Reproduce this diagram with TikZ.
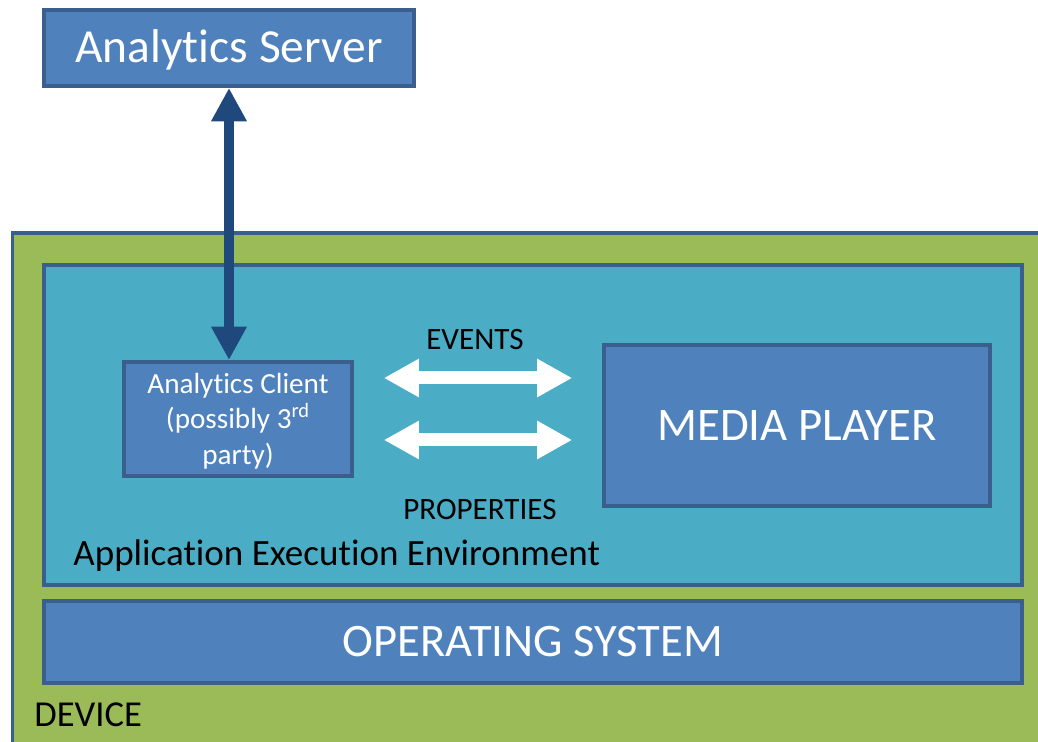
\documentclass[tikz,border=0pt]{standalone}
\usepackage{fontspec}
\setmainfont{Carlito}[Ligatures=NoCommon]
\usetikzlibrary{arrows.meta,positioning}
\definecolor{boxBlue}{HTML}{4F81BD}
\definecolor{edgeBlue}{HTML}{3B5F8C}
\definecolor{devGreen}{HTML}{9BBB59}
\definecolor{envCyan}{HTML}{4BACC6}
\definecolor{linkBlue}{HTML}{1F497D}
\tikzstyle{recNode} = [rectangle, draw=edgeBlue, line width=2.2pt, inner sep=0pt, text centered]
\tikzstyle{recNodeB} = [recNode, fill=boxBlue, text=white]
\tikzstyle{recNodeG} = [recNode, fill=devGreen]
\tikzstyle{recNodeC} = [recNode, fill=envCyan]
\tikzstyle{eNode} = [inner sep=0pt, text=black]
\tikzstyle{arrowW} = [draw=white, line width=7.4pt, {Triangle[width=20.5pt,length=20pt]}-{Triangle[width=20.5pt,length=20pt]}, shorten <=17pt, shorten >=17pt]
\tikzstyle{arrowD} = [draw=linkBlue, line width=5.6pt, {Triangle[width=19pt,length=19pt]}-{Triangle[width=19pt,length=19pt]}]

\begin{document}
\begin{tikzpicture}[x=0.02cm, y=-0.02cm]
    \useasboundingbox (0,0) rectangle (1038,742);
    \clip (0,0) rectangle (1038,742);
    % boxes
    \node (server) [recNodeB, minimum width=7.4cm, minimum height=1.52cm, font=\fontsize{27}{32}\selectfont, text depth=0.28em] at (229,48) {Analytics Server};
    \node (device) [recNodeG, line width=1.8pt, minimum width=20.96cm, minimum height=10.54cm] at (536,496.5) {};
    \node (appenv) [recNodeC, minimum width=19.56cm, minimum height=6.4cm] at (533,425) {};
    \node (client) [recNodeB, minimum width=4.56cm, minimum height=2.28cm] at (238,419) {};
    \node (clientTxt) [eNode, text=white, align=center, font=\fontsize{16.6}{20.1}\selectfont] at (238,421) {Analytics Client\\(possibly 3\textsuperscript{rd}\\party)};
    \node (player) [recNodeB, minimum width=7.72cm, minimum height=3.22cm, font=\fontsize{26.6}{32}\selectfont] at (797,425.5) {MEDIA PLAYER};
    \node (os) [recNodeB, minimum width=19.56cm, minimum height=1.64cm, font=\fontsize{26.5}{32}\selectfont] at (533,642) {OPERATING SYSTEM};
    % labels
    \node (events) [eNode, font=\fontsize{17.7}{21}\selectfont] at (475,340) {EVENTS};
    \node (props) [eNode, font=\fontsize{17.7}{21}\selectfont] at (480,510) {PROPERTIES};
    \node (envlbl) [eNode, anchor=west, font=\fontsize{21.1}{25}\selectfont] at (73,556) {Application Execution Environment};
    \node (devlbl) [eNode, anchor=west, font=\fontsize{20.8}{25}\selectfont] at (34,715) {DEVICE};
    % links
    \coordinate (evY) at (0,378);
    \coordinate (prY) at (0,440);
    \draw [arrowW] (client.east |- evY) -- (player.west |- evY);
    \draw [arrowW] (client.east |- prY) -- (player.west |- prY);
    \draw [arrowD] (server.south) -- (server.south |- client.north);
\end{tikzpicture}
\end{document}
